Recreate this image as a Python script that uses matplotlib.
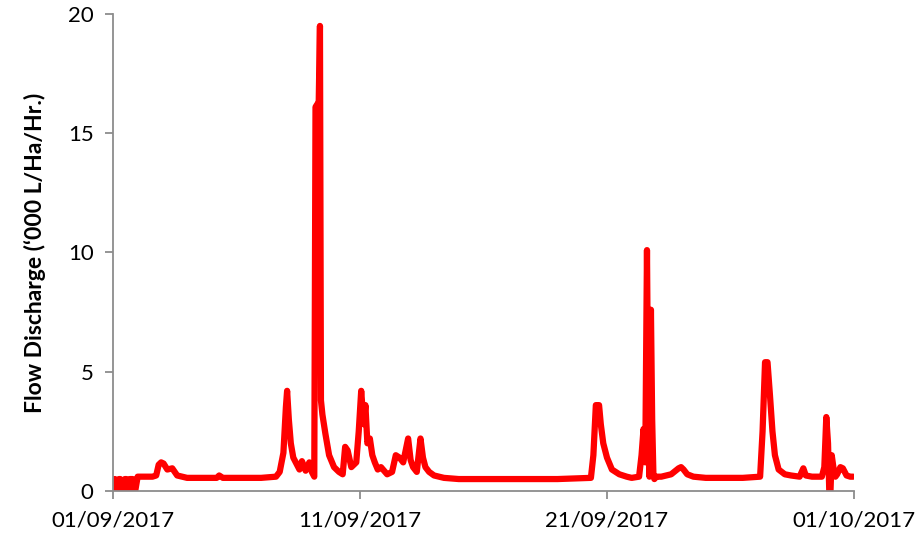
import numpy as np
import pandas as pd
import matplotlib
matplotlib.use("Agg")
import matplotlib.pyplot as plt
import matplotlib.dates as mdates

# flow discharge: day offset from 01/09/2017 and value ('000 L/Ha/Hr.)
days = [0.00, 0.04, 0.08, 0.12, 0.20, 0.24, 0.30, 0.34, 0.44, 0.48, 0.54, 0.58, 0.64, 0.68, 0.80, 0.84,
        0.90, 1.00, 1.60, 1.75, 1.85, 1.95, 2.05, 2.20, 2.40, 2.60, 3.00, 3.60, 4.20, 4.30, 4.45,
        5.00, 6.00, 6.60, 6.75, 6.90, 7.00, 7.05, 7.12, 7.20, 7.30, 7.45, 7.55, 7.65, 7.80, 7.95,
        8.05, 8.15, 8.20, 8.26, 8.33, 8.38, 8.42, 8.48, 8.60, 8.75, 8.95, 9.15, 9.30, 9.40, 9.50,
        9.65, 9.85, 9.95, 10.05, 10.15, 10.22, 10.30, 10.40, 10.50, 10.60, 10.72, 10.85, 11.10,
        11.30, 11.45, 11.60, 11.75, 11.95, 12.05, 12.15, 12.30, 12.45, 12.55, 12.65, 12.80,
        13.00, 13.40, 14.00, 15.00, 16.00, 17.00, 18.00, 19.35, 19.45, 19.55, 19.68, 19.75,
        19.85, 20.00, 20.20, 20.50, 20.80, 21.00, 21.30, 21.40, 21.48, 21.55, 21.62,
        21.68, 21.72, 21.78, 21.83, 21.88, 21.92, 22.00, 22.20, 22.60, 22.90, 23.00, 23.10,
        23.25, 23.50, 24.00, 25.00, 25.50, 26.20, 26.30, 26.40, 26.50, 26.60, 26.70, 26.80,
        26.95, 27.20, 27.45, 27.80, 27.95, 28.05, 28.30, 28.70, 28.80, 28.88, 28.95, 29.00,
        29.05, 29.10, 29.18, 29.25, 29.32, 29.45, 29.55, 29.70, 29.85, 29.97]
flow = [0.50, 0.00, 0.50, 0.00, 0.00, 0.50, 0.50, 0.00, 0.00, 0.50, 0.50, 0.00, 0.00, 0.50, 0.50, 0.00,
        0.00, 0.60, 0.60, 0.65, 1.10, 1.20, 1.15, 0.90, 0.95, 0.65, 0.55, 0.55, 0.55, 0.65, 0.55,
        0.55, 0.55, 0.60, 0.80, 1.60, 3.50, 4.20, 3.00, 2.00, 1.40, 1.10, 0.90, 1.25, 0.85, 1.20,
        0.80, 0.60, 16.10, 16.20, 16.30, 19.50, 3.80, 3.20, 2.40, 1.50, 1.00, 0.80, 0.70, 1.85, 1.70,
        1.00, 1.20, 2.50, 4.20, 2.80, 3.60, 2.00, 2.20, 1.50, 1.20, 0.90, 1.00, 0.70,
        0.80, 1.50, 1.40, 1.20, 2.20, 1.30, 1.00, 0.80, 2.20, 1.40, 1.00, 0.80,
        0.65, 0.55, 0.50, 0.50, 0.50, 0.50, 0.50, 0.55, 1.50, 3.60, 3.60, 2.80,
        2.00, 1.40, 0.90, 0.70, 0.60, 0.55, 0.60, 1.50, 2.60, 1.20, 10.10,
        2.00, 0.60, 7.60, 3.00, 0.70, 0.50, 0.60, 0.60, 0.70, 0.95, 1.00, 0.90,
        0.70, 0.60, 0.55, 0.55, 0.55, 0.60, 2.50, 5.40, 5.40, 4.00, 2.50, 1.50,
        0.90, 0.70, 0.65, 0.60, 0.95, 0.65, 0.60, 0.60, 1.00, 3.10, 2.00, 0.00,
        0.00, 1.50, 0.90, 0.60, 0.70, 1.00, 0.95, 0.65, 0.60, 0.60]

start = pd.Timestamp("2017-09-01")
times = start + pd.to_timedelta(days, unit="D")
x_ticks = pd.to_datetime(["2017-09-01", "2017-09-11", "2017-09-21", "2017-10-01"])
y_ticks = [0, 5, 10, 15, 20]

plt.rcParams["font.family"] = ["Lato", "DejaVu Sans"]

fig = plt.figure(figsize=(9.23, 5.43), dpi=100)
ax = fig.add_axes([0.1224, 0.0958, 0.8028, 0.8784])

ax.plot(times, flow, color="#ff0000", linewidth=4.5, solid_joinstyle="round", solid_capstyle="round")

ax.set_xlim(x_ticks[0], x_ticks[-1])
ax.set_ylim(0, 20)
ax.set_xticks(x_ticks)
ax.xaxis.set_major_formatter(mdates.DateFormatter("%d/%m/%Y"))
ax.set_yticks(y_ticks)

gray = "#8c8c8c"
for s in ["top", "right"]:
    ax.spines[s].set_visible(False)
for s in ["left", "bottom"]:
    ax.spines[s].set_color(gray)
    ax.spines[s].set_linewidth(1.3)
ax.tick_params(axis="both", colors=gray, width=1.3, length=6, labelcolor="black", labelsize=16)
ax.tick_params(axis="x", pad=8)
ax.tick_params(axis="y", pad=8)

ax.set_ylabel("Flow Discharge (\u2018000 L/Ha/Hr.)", fontsize=16.5, fontweight="bold", labelpad=16)

fig.savefig("out.png", dpi=100)
